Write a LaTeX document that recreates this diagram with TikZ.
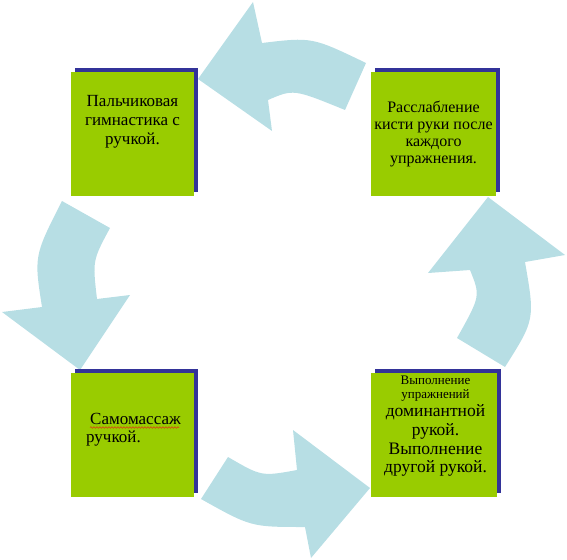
\documentclass[tikz,border=0pt]{standalone}
\usepackage{fontspec}
\setmainfont{Liberation Serif}
\usetikzlibrary{shadows,decorations.pathmorphing}
\definecolor{cardgreen}{RGB}{153,204,0}
\definecolor{shadowblue}{RGB}{51,51,153}
\definecolor{arrowblue}{RGB}{183,222,228}
\definecolor{spellred}{RGB}{220,60,20}
\begin{document}
\begin{tikzpicture}[x=1pt,y=-1pt,
  card/.style={fill=cardgreen, inner sep=0pt, minimum height=124pt,
    general shadow={fill=shadowblue, shadow xshift=4pt, shadow yshift=4pt}},
  cardtext/.style={inner sep=0pt, align=center, font=\fontsize{17}{19}\selectfont},
  bigarrow/.style={fill=arrowblue}]
\useasboundingbox (0,0) rectangle (567,559);
% curved arrows
\fill[bigarrow] (198,79) -- (253,2) -- (262,43) .. controls (312,37) .. (366,63)
  -- (345,110) .. controls (293.5,89) .. (268,100) -- (272,131) -- cycle;
\fill[bigarrow] (80,370) -- (2,312) -- (42,307) .. controls (34,256) .. (62,201)
  -- (110,228) .. controls (92.5,260.5) .. (97,299) -- (130,295) -- cycle;
\fill[bigarrow] (370,488) -- (311,558) -- (305,527) .. controls (251,527) .. (201,499)
  -- (228,457) .. controls (261.5,476.5) .. (297,470) -- (293,430) -- cycle;
\fill[bigarrow] (488,197) -- (565,255) -- (525,262) .. controls (535,319.5) .. (505,367)
  -- (457,338) .. controls (480.5,296) .. (470,270) -- (428,273) -- cycle;
% cards
\node[card, minimum width=123pt] (tl) at (132.5,134) {};
\node[card, minimum width=125pt] (tr) at (433.5,134) {};
\node[card, minimum width=123pt] (bl) at (132.5,434.5) {};
\node[card, minimum width=126pt] (br) at (434,434.5) {};
% texts
\node[cardtext, anchor=north] (tltext) at (132.5,95.5)
  {Пальчиковая\\гимнастика с\\ручкой.};
\node[cardtext, anchor=north, font=\fontsize{16}{17}\selectfont] (trtext) at (433.5,100.5)
  {Расслабление\\кисти руки после\\каждого\\упражнения.};
\node[cardtext, anchor=north west, align=left, font=\fontsize{17}{18.7}\selectfont] (bltext) at (86,412.8)
  {\hspace{4pt}Самомассаж\\ручкой.};
\draw[spellred, line width=0.6pt, decorate, decoration={snake, segment length=3pt, amplitude=0.8pt}]
  (90,427.5) -- (179,427.5);
\node[cardtext, anchor=north, font=\fontsize{17.5}{18.7}\selectfont] (brtext) at (435.5,375.4)
  {{\fontsize{13}{14}\selectfont Выполнение}\\[-4.7pt]{\fontsize{13}{14}\selectfont упражнений}\\доминантной\\рукой.\\Выполнение\\другой рукой.};
\end{tikzpicture}
\end{document}
